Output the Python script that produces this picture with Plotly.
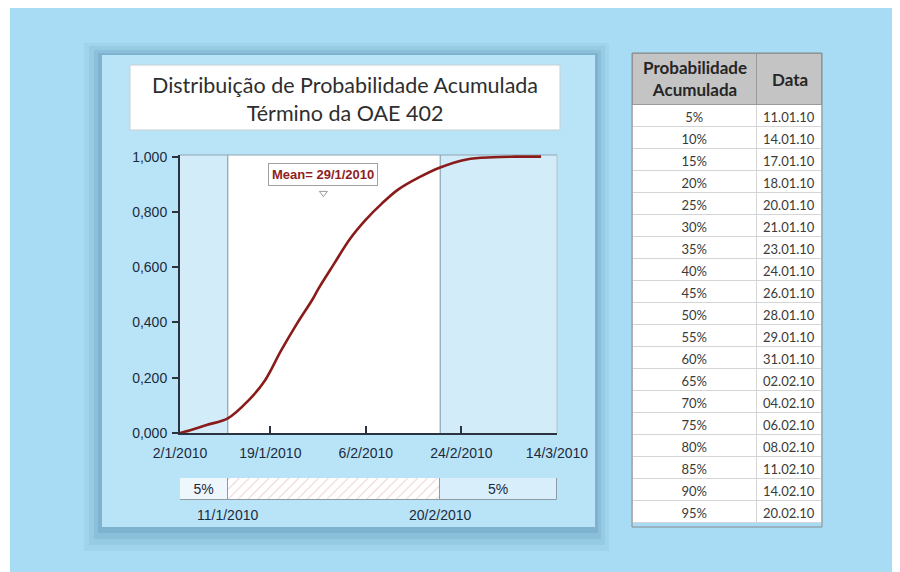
import plotly.graph_objects as go
from datetime import datetime

# figure is placed by the page 8px from the left/top edge
OFF = 8
W, H = 892, 564
def px(x): return (x - OFF) / W
def py(y): return 1 - (y - OFF) / H

# ---------------- data ----------------
curve_dates = ["2010-01-02", "2010-01-03", "2010-01-07", "2010-01-11", "2010-01-15",
               "2010-01-18", "2010-01-21", "2010-01-24", "2010-01-27", "2010-01-28",
               "2010-01-31", "2010-02-03", "2010-02-06", "2010-02-09", "2010-02-12",
               "2010-02-16", "2010-02-20", "2010-02-25", "2010-03-02", "2010-03-06",
               "2010-03-11"]
curve_prob = [0.0, 0.005, 0.029, 0.053, 0.12, 0.19, 0.297, 0.395, 0.485, 0.52,
              0.612, 0.702, 0.772, 0.83, 0.88, 0.925, 0.961, 0.99, 0.998, 1.0, 1.0]

x_start, x_end = "2010-01-02", "2010-03-14"
tick_dates = ["2010-01-02", "2010-01-19", "2010-02-06", "2010-02-24", "2010-03-14"]
tick_labels = ["2/1/2010", "19/1/2010", "6/2/2010", "24/2/2010", "14/3/2010"]
y_ticks = [0, 0.2, 0.4, 0.6, 0.8, 1.0]
y_labels = ["0,000", "0,200", "0,400", "0,600", "0,800", "1,000"]

p5_date, p95_date = "2010-01-11", "2010-02-20"
p5_label, p95_label = "11/1/2010", "20/2/2010"
tail_labels = ["5%", "5%"]
mean_date, mean_label = "2010-01-29", "Mean= 29/1/2010"

title_lines = ["Distribuição de Probabilidade Acumulada", "Término da OAE 402"]

table_header = [["Probabilidade", "Acumulada"], ["Data"]]
table_prob = ["5%", "10%", "15%", "20%", "25%", "30%", "35%", "40%", "45%", "50%",
              "55%", "60%", "65%", "70%", "75%", "80%", "85%", "90%", "95%"]
table_dates = ["11.01.10", "14.01.10", "17.01.10", "18.01.10", "20.01.10", "21.01.10",
               "23.01.10", "24.01.10", "26.01.10", "28.01.10", "29.01.10", "31.01.10",
               "02.02.10", "04.02.10", "06.02.10", "08.02.10", "11.02.10", "14.02.10",
               "20.02.10"]

# ---------------- styles ----------------
NAVY = "#1c2a3e"
AXC = "#2b3340"
BAND = "#d3ecf9"
FONT = "Liberation Sans, Arial, sans-serif"
TFONT = "Lato, Open Sans, sans-serif"

def ms(a, b):
    fmt = "%Y-%m-%d"
    return (datetime.strptime(b, fmt) - datetime.strptime(a, fmt)).total_seconds() * 1000

fig = go.Figure()

# CDF curve
fig.add_trace(go.Scatter(x=curve_dates, y=curve_prob, mode="lines",
                         line=dict(color="#8a1b1b", width=2.6, shape="spline", smoothing=1.0),
                         hoverinfo="skip"))
# percentile triangles at the top
fig.add_trace(go.Scatter(x=[p5_date, p95_date], y=[1.025, 1.025], mode="markers",
                         marker=dict(symbol="triangle-down", size=9, color="#4f7283"),
                         cliponaxis=False, hoverinfo="skip"))
# mean pointer
fig.add_trace(go.Scatter(x=[mean_date], y=[0.868], mode="markers",
                         marker=dict(symbol="triangle-down-open", size=7, color="#9a9a9a",
                                     line=dict(width=1)),
                         cliponaxis=False, hoverinfo="skip"))

# bottom percentile bar
segs = [(x_start, p5_date, "#eef7fc", None, tail_labels[0]),
        (p5_date, p95_date, "white", "/", ""),
        (p95_date, x_end, "#d8eefa", None, tail_labels[1])]
for a, b, col, pat, txt in segs:
    marker = dict(color=col, line=dict(color="#8d9ba5", width=1))
    if pat:
        marker["pattern"] = dict(shape=pat, fgcolor="#d8a8a8", bgcolor="white",
                                 size=7, solidity=0.15)
    fig.add_trace(go.Bar(y=["r"], x=[ms(a, b)], base=[a], orientation="h", width=1,
                         marker=marker, text=[txt], textposition="inside",
                         insidetextanchor="middle", constraintext="none",
                         textfont=dict(family=FONT, size=14, color=NAVY),
                         xaxis="x2", yaxis="y2", hoverinfo="skip"))

# table (header text drawn as annotations so each line is centred)
fig.add_trace(go.Table(
    domain=dict(x=[px(632), px(822)], y=[py(527), py(53)]),
    columnwidth=[125, 65],
    header=dict(values=["", ""], fill_color="#c4c4c4", line_color="#9a9a9a",
                height=51, align="center"),
    cells=dict(values=[table_prob, table_dates], fill_color="white",
               line_color="#d5d5d5",
               font=dict(family=TFONT, size=13, color="#3a3a3a"),
               height=22, align="center")))

shapes = [
    dict(type="rect", xref="paper", yref="paper", x0=0, x1=px(10), y0=0, y1=1,
         fillcolor="white", line_width=0, layer="below"),
]
for (dx0, dy0, dx1, dy1, op) in [(18, 12, 14, 24, 0.05), (13, 9, 10, 18, 0.07),
                                 (8, 5, 6, 12, 0.09), (4, 2, 3, 6, 0.11)]:
    shapes.append(dict(type="rect", xref="paper", yref="paper",
                       x0=px(102 - dx0), x1=px(595 + dx1), y0=py(527 + dy1), y1=py(55 - dy0),
                       fillcolor="rgba(30,80,120,%g)" % op, line_width=0, layer="below"))
shapes += [
    dict(type="rect", xref="paper", yref="paper", x0=px(102), x1=px(595), y0=py(527), y1=py(55),
         fillcolor="#b9e4f7", line_width=0, layer="below"),
    dict(type="rect", xref="paper", yref="paper", x0=px(130), x1=px(560), y0=py(130), y1=py(65),
         fillcolor="white", line=dict(color="#c5cfd4", width=1), layer="below"),
    dict(type="rect", xref="x", yref="y domain", x0=x_start, x1=p5_date, y0=0, y1=1,
         fillcolor=BAND, line_width=0, layer="below"),
    dict(type="rect", xref="x", yref="y domain", x0=p5_date, x1=p95_date, y0=0, y1=1,
         fillcolor="white", line_width=0, layer="below"),
    dict(type="rect", xref="x", yref="y domain", x0=p95_date, x1=x_end, y0=0, y1=1,
         fillcolor=BAND, line_width=0, layer="below"),
    dict(type="line", xref="x", yref="y domain", x0=p5_date, x1=p5_date, y0=0, y1=1,
         line=dict(color="#7d96a3", width=1), layer="below"),
    dict(type="line", xref="x", yref="y domain", x0=p95_date, x1=p95_date, y0=0, y1=1,
         line=dict(color="#7d96a3", width=1), layer="below"),
    dict(type="line", xref="x domain", yref="y domain", x0=0, x1=1, y0=1, y1=1,
         line=dict(color="#8fa5b2", width=1), layer="below"),
    dict(type="line", xref="x domain", yref="y domain", x0=1, x1=1, y0=0, y1=1,
         line=dict(color="#b5c2c9", width=1), layer="below"),
    # table outer border
    dict(type="rect", xref="paper", yref="paper", x0=px(632), x1=px(822), y0=py(527), y1=py(53),
         line=dict(color="#8a8a8a", width=1), fillcolor="rgba(0,0,0,0)", layer="above"),
]

annotations = [
    dict(xref="paper", yref="paper", x=px(345), y=py(99), xanchor="center", yanchor="middle",
         text="<br>".join(title_lines), showarrow=False,
         font=dict(family=TFONT, size=21.5, color="#2e2e2e")),
    dict(xref="x", yref="y", x=mean_date, y=0.9345, text="<b>%s</b>" % mean_label,
         showarrow=False, bgcolor="white", bordercolor="#a0a0a0", borderwidth=1, borderpad=3,
         font=dict(family=FONT, size=13, color="#8f1d1d")),
    dict(xref="x", yref="paper", x=p5_date, y=py(515), yanchor="middle", text=p5_label,
         showarrow=False, font=dict(family=FONT, size=14, color=NAVY)),
    dict(xref="x", yref="paper", x=p95_date, y=py(515), yanchor="middle", text=p95_label,
         showarrow=False, font=dict(family=FONT, size=14, color=NAVY)),
    dict(xref="paper", yref="paper", x=px(694.5), y=py(78), xanchor="center", yanchor="middle",
         text="<b>%s</b>" % "<br>".join(table_header[0]), showarrow=False,
         font=dict(family=TFONT, size=17, color="#262626")),
    dict(xref="paper", yref="paper", x=px(789.5), y=py(79), xanchor="center", yanchor="middle",
         text="<b>%s</b>" % "<br>".join(table_header[1]), showarrow=False,
         font=dict(family=TFONT, size=17, color="#262626")),
]

fig.update_layout(
    width=W, height=H, margin=dict(l=0, r=0, t=0, b=0, autoexpand=False),
    paper_bgcolor="#a7dcf4", plot_bgcolor="rgba(0,0,0,0)",
    showlegend=False, barmode="overlay", bargap=0,
    shapes=shapes, annotations=annotations,
    xaxis=dict(domain=[px(180), px(557)], type="date", range=[x_start, x_end],
               tickvals=tick_dates, ticktext=tick_labels, ticks="inside", ticklen=7,
               tickwidth=2, tickcolor=AXC, showline=True, linecolor=AXC, linewidth=2,
               showgrid=False, zeroline=False, ticklabelstandoff=6, automargin=False,
               tickfont=dict(family=FONT, size=14, color=NAVY), anchor="y"),
    yaxis=dict(domain=[py(433), py(155)], range=[0, 1.006], tickvals=y_ticks,
               ticktext=y_labels, ticks="outside", ticklen=6, tickwidth=1.5, tickcolor=AXC,
               showline=True, linecolor=AXC, linewidth=2, showgrid=False, zeroline=False,
               ticklabelstandoff=2, automargin=False,
               tickfont=dict(family=FONT, size=14, color=NAVY), anchor="x"),
    xaxis2=dict(domain=[px(180), px(557)], type="date", matches="x", anchor="y2",
                visible=False, automargin=False),
    yaxis2=dict(domain=[py(500), py(478)], range=[-0.5, 0.5], visible=False, anchor="x2",
                automargin=False),
)

fig.write_html("out.html")
